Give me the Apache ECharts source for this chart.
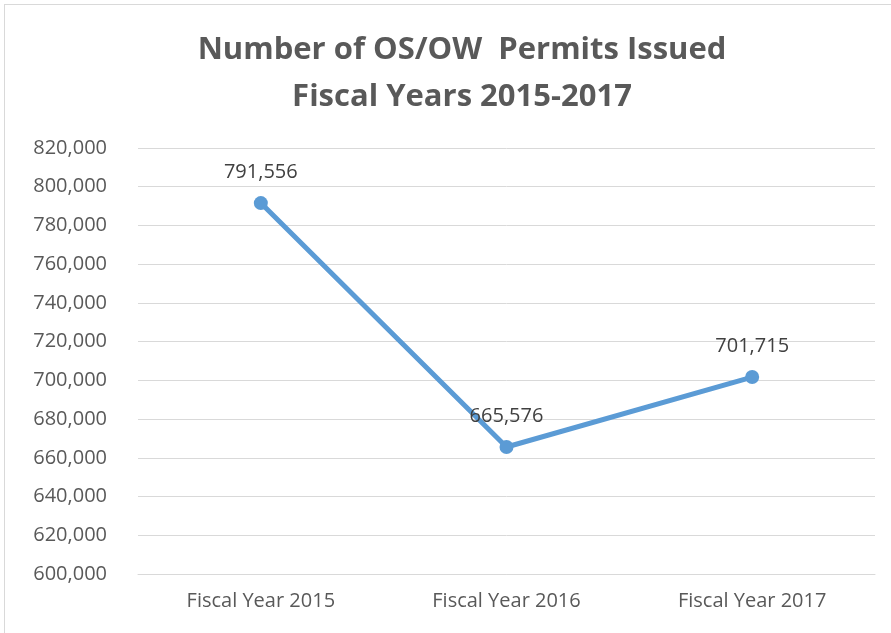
<!DOCTYPE html>
<html>
<head>
<meta charset="utf-8">
<script src="https://cdn.jsdelivr.net/npm/echarts@6/dist/echarts.min.js"></script>
<style>
  html, body { margin: 0; padding: 0; background: #fff; }
  #chart { width: 891px; height: 633px; }
  #frame { position: absolute; left: 4px; top: 4px; width: 900px; height: 650px; border: 1px solid #d9d9d9; box-sizing: border-box; pointer-events: none; }
</style>
</head>
<body>
<div id="chart"></div>
<div id="frame"></div>
<script>
var categories = ['Fiscal Year 2015', 'Fiscal Year 2016', 'Fiscal Year 2017'];
var permits = [791556, 665576, 701715];
var titleLines = ['Number of OS/OW  Permits Issued', 'Fiscal Years 2015-2017'];

var chart = echarts.init(document.getElementById('chart'));

function fmt(v) {
    return v.toString().replace(/\B(?=(\d{3})+(?!\d))/g, ',');
}

var option = {
    animation: false,
    title: {
        text: titleLines.join('\n'),
        left: 457,
        top: 22,
        textAlign: 'center',
        textStyle: {
            fontFamily: 'Open Sans',
            fontWeight: 'bold',
            fontSize: 31,
            lineHeight: 47,
            color: '#595959'
        }
    },
    grid: {
        left: 138,
        right: 16,
        top: 148,
        bottom: 59,
        containLabel: false
    },
    xAxis: {
        type: 'category',
        data: categories,
        axisLine: { lineStyle: { color: '#d9d9d9', width: 1 } },
        axisTick: { show: false },
        axisLabel: {
            color: '#595959',
            fontFamily: 'Open Sans',
            fontSize: 20,
            margin: 17
        }
    },
    yAxis: {
        type: 'value',
        min: 600000,
        max: 820000,
        interval: 20000,
        axisLine: { show: false },
        axisTick: { show: false },
        splitLine: { lineStyle: { color: '#d9d9d9', width: 1 } },
        axisLabel: {
            color: '#595959',
            fontFamily: 'Open Sans',
            fontSize: 20,
            margin: 31,
            formatter: fmt
        }
    },
    series: [{
        type: 'line',
        data: permits,
        symbol: 'circle',
        symbolSize: 14,
        lineStyle: { color: '#5b9bd5', width: 5 },
        itemStyle: { color: '#5b9bd5' },
        label: {
            show: true,
            position: 'top',
            distance: 14,
            color: '#404040',
            fontFamily: 'Open Sans',
            fontSize: 20,
            formatter: function (p) { return fmt(p.value); }
        }
    }]
};
chart.setOption(option);
</script>
</body>
</html>
